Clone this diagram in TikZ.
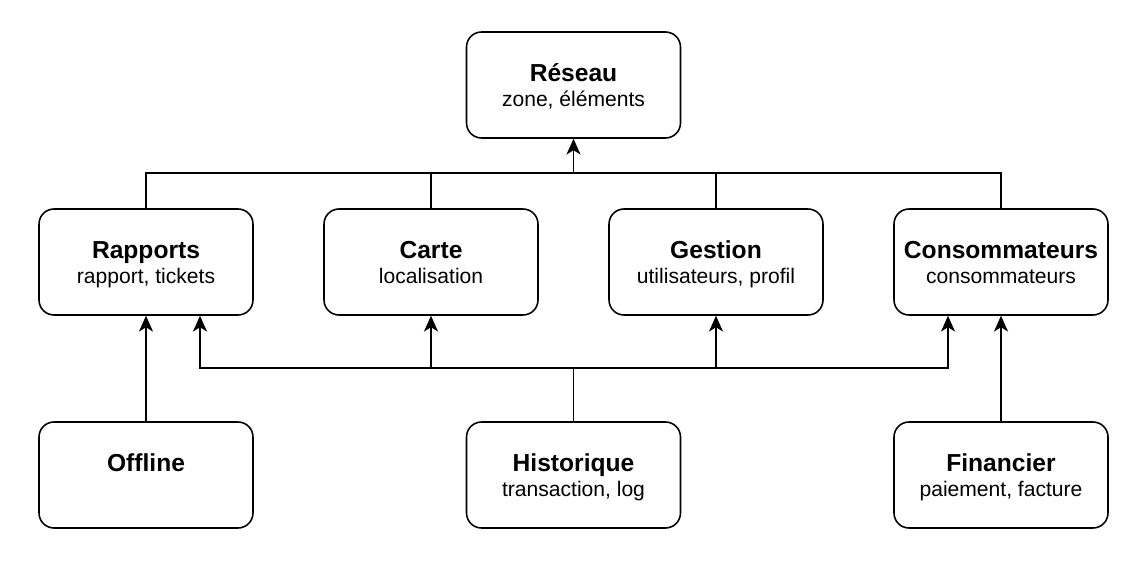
\documentclass[tikz,border=0pt]{standalone}
\usepackage{fontspec}
\setmainfont{Liberation Sans}
\usetikzlibrary{arrows.meta}
\newcommand\titre[2]{{\bfseries\fontsize{14}{14.2}\selectfont\rule{0pt}{14pt}#1}\\\strut #2}
\begin{document}
\begin{tikzpicture}[x=0.02cm,y=-0.02cm,
bloc/.style={draw,rounded corners=0.3cm,line width=0.9pt,minimum width=4.28cm,minimum height=2.12cm,align=center,font=\fontsize{12}{14.2}\selectfont},
lien/.style={line width=0.9pt},
fl/.style={-{Stealth[length=9pt,width=8pt,inset=2.5pt]},line width=0.9pt}]
\useasboundingbox (0,0) rectangle (1143,564);
\node[bloc](reseau) at (573.5,85) {\titre{Réseau}{zone, éléments}};
\node[bloc](rapports) at (146,262) {\titre{Rapports}{rapport, tickets}};
\node[bloc](carte) at (431,262) {\titre{Carte}{localisation}};
\node[bloc](gestion) at (716,262) {\titre{Gestion}{utilisateurs, profil}};
\node[bloc](conso) at (1001,262) {\titre{Consommateurs}{consommateurs}};
\node[bloc](offline) at (146,475) {\titre{Offline}{}};
\node[bloc](historique) at (573.5,475) {\titre{Historique}{transaction, log}};
\node[bloc](financier) at (1001,475) {\titre{Financier}{paiement, facture}};
% bus vers le reseau
\coordinate (haut) at (573.5,173);
\draw[lien] (rapports.north) |- (haut);
\draw[lien] (conso.north) |- (haut);
\draw[lien] (carte.north) -- (carte.north|-haut);
\draw[lien] (gestion.north) -- (gestion.north|-haut);
\draw[fl] (haut) -- (reseau.south);
% bus de l'historique
\coordinate (bas) at (573.5,368);
\draw[lien] (historique.north) -- (bas);
\draw[fl] (bas) -| ([xshift=1.08cm]rapports.south);
\draw[fl] (bas) -| ([xshift=-1.06cm]conso.south);
\draw[fl] (carte.south|-bas) -- (carte.south);
\draw[fl] (gestion.south|-bas) -- (gestion.south);
% liens directs
\draw[fl] (offline) -- (rapports);
\draw[fl] (financier) -- (conso);
\end{tikzpicture}
\end{document}
